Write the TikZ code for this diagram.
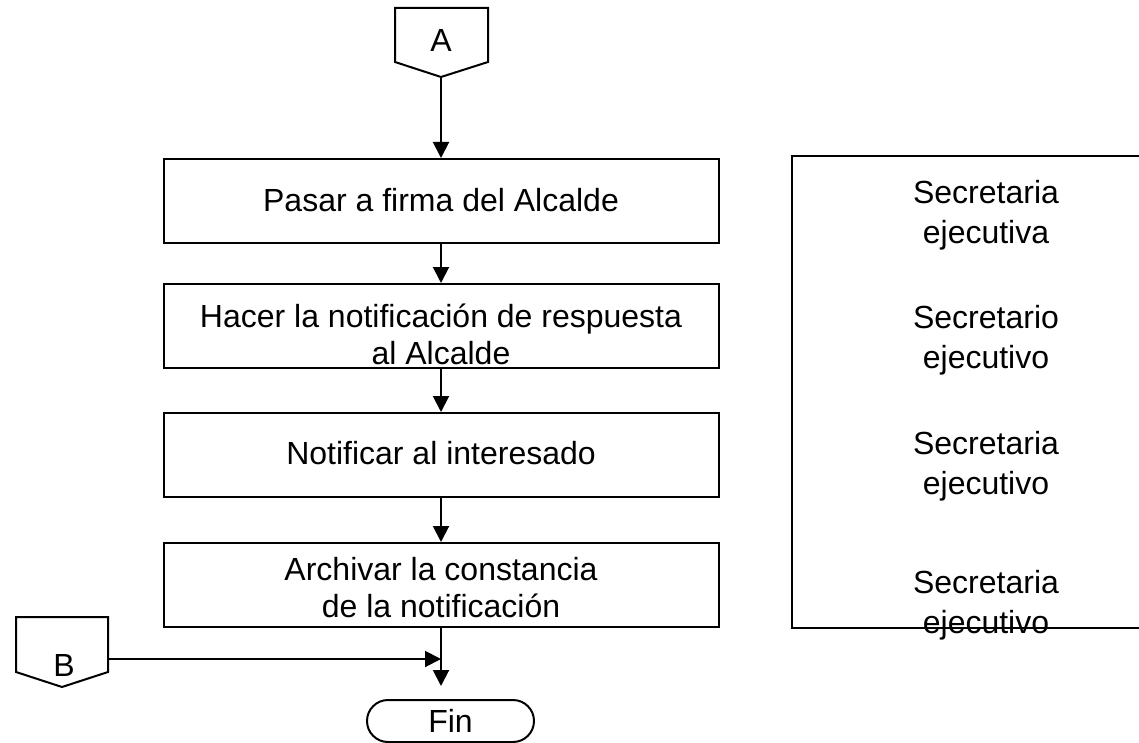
\documentclass[tikz,border=0pt]{standalone}
\usepackage{fontspec}
\setmainfont{Liberation Sans}
\usetikzlibrary{arrows.meta,shapes.misc}

\tikzset{
    flow/.style={line width=1pt,-{Triangle[width=8pt,length=8pt]}},
    procbox/.style={draw,line width=1pt,minimum width=277.5pt,minimum height=42pt,inner sep=0pt},
    proctext/.style={anchor=base,align=center,inner sep=0pt,font=\fontsize{16}{18.5}\selectfont},
    roletext/.style={anchor=base,align=center,inner sep=0pt,font=\fontsize{16}{20}\selectfont},
    endbox/.style={draw,line width=1pt,rounded rectangle,minimum width=83.5pt,minimum height=21pt,inner sep=0pt,font=\fontsize{16}{18}\selectfont}
}

\begin{document}
\begin{tikzpicture}[x=0.5pt,y=-0.5pt]
            \useasboundingbox (0,0) rectangle (1139,743);
            % off-page connectors
            \draw[line width=1pt] (395,8)--(488,8)--(488,62)--(441,77)--(395,62)--cycle;
            \node[font=\fontsize{16}{18}\selectfont] (A) at (441,40){A};
            \coordinate (Atip) at (441,77);
            \draw[line width=1pt] (16,617)--(108,617)--(108,672)--(62,687)--(16,672)--cycle;
            \node[font=\fontsize{16}{18}\selectfont] (B) at (64,665){B};
            \coordinate (Bout) at (108,659);
            \coordinate (join) at (441,659);
            % process boxes (text anchored at the last baseline)
            \foreach \n/\yc/\yb/\txt in {1/201/212/{Pasar a firma del Alcalde},
                                         2/326/364/{Hacer la notificación de respuesta\\al Alcalde},
                                         3/455/464/{Notificar al interesado},
                                         4/585/617/{Archivar la constancia\\de la notificación}}{
                \node[procbox] (b\n) at (441,\yc){};
                \node[proctext] (t\n) at (441,\yb){\txt};
            }
            \node[endbox] (fin) at (450.5,721){Fin};
            \coordinate (end) at (441,686);
            % arrows
            \draw[flow] (Atip)--(b1.north);
            \draw[flow] (b1.south)--(b2.north);
            \draw[flow] (b2.south)--(b3.north);
            \draw[flow] (b3.south)--(b4.north);
            \draw[flow] (b4.south)--(end);
            \draw[flow] (Bout)--(join);
            % responsible column
            \draw[line width=1pt] (1139,156)--(792,156)--(792,628)--(1139,628);
            \foreach \n/\yb/\txt in {1/243/{Secretaria\\ejecutiva},
                                     2/368/{Secretario\\ejecutivo},
                                     3/494/{Secretaria\\ejecutivo},
                                     4/633/{Secretaria\\ejecutivo}}{
                \node[roletext] (r\n) at (986,\yb){\txt};
            }
        \end{tikzpicture}
\end{document}
